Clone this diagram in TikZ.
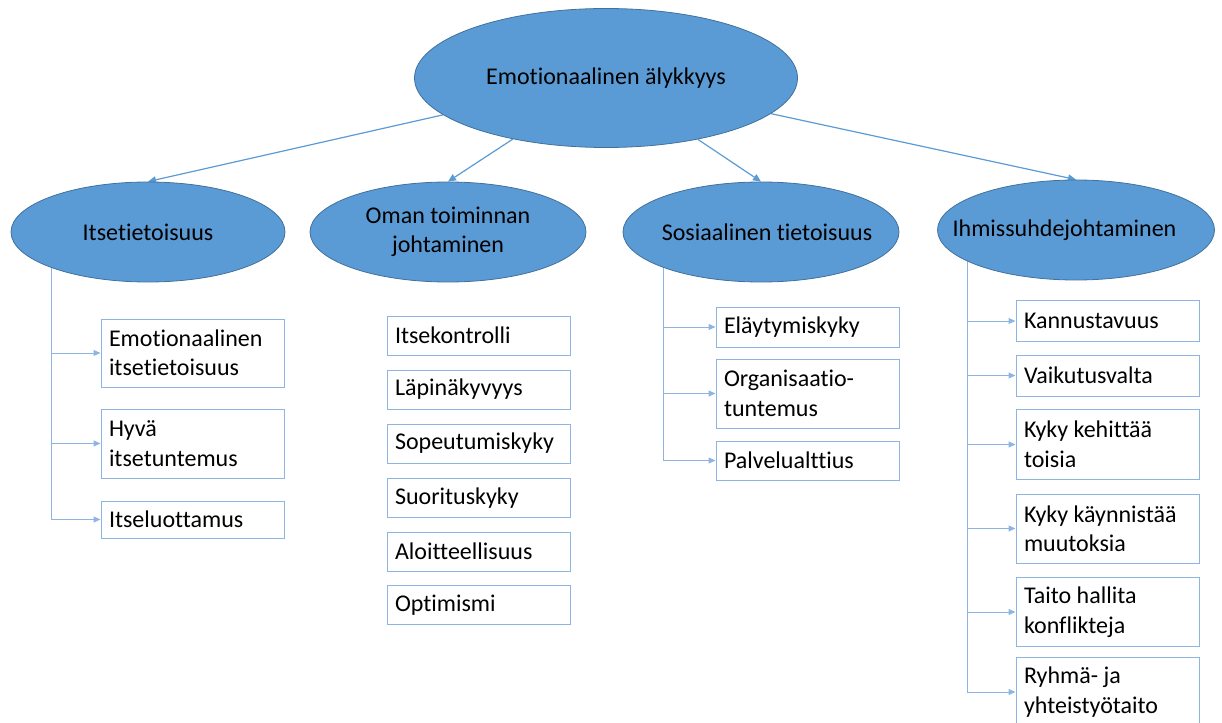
\documentclass[tikz,border=0pt]{standalone}
\usepackage{fontspec}
\setmainfont{Carlito}[Ligatures={NoCommon,NoRequired}]
\usetikzlibrary{shapes.geometric,arrows.meta,backgrounds}
\definecolor{ovalfill}{HTML}{5B9BD5}
\definecolor{ovalline}{HTML}{41719C}
\definecolor{boxline}{HTML}{8EB4E3}
\definecolor{linkblue}{HTML}{5B9BD5}
\definecolor{treeblue}{HTML}{8EB4E3}

\tikzset{
  txt/.style={font=\fontsize{24}{29.5}\selectfont},
  oval/.style={ellipse, fill=ovalfill, draw=ovalline, line width=0.8pt,
    inner sep=-60pt, align=center, txt},
  item/.style={rectangle, draw=boxline, line width=1pt, fill=white,
    minimum width=183pt, text width=167pt, inner xsep=8pt, inner ysep=0pt,
    align=flush left, txt, minimum height=#1},
  item/.default=39pt,
  link/.style={draw=linkblue, line width=1.2pt, -{Triangle[length=8pt,width=7pt]}},
  twig/.style={draw=treeblue, line width=1pt, -{Triangle[length=7pt,width=6pt]}},
  trunk/.style={draw=treeblue, line width=1pt}
}

\begin{document}
\begin{tikzpicture}[x=1pt,y=-1pt]

\useasboundingbox (0,0) rectangle (1222,722);
\clip (0,0) rectangle (1222,722);

% root and the four areas
\node[oval, minimum width=383pt, minimum height=139pt] (root) at (606,78) {Emotionaalinen älykkyys};
\node[oval, minimum width=274pt, minimum height=100pt] (it)  at (148,232) {Itsetietoisuus};
\node[oval, minimum width=276pt, minimum height=100pt] (om)  at (448,232) {Oman toiminnan\\johtaminen};
\node[oval, minimum width=276pt, minimum height=100pt] (so)  at (761,232) {\hspace*{12pt}Sosiaalinen tietoisuus};
\node[oval, minimum width=277pt, minimum height=100pt] (ih)  at (1076,230) {\hspace*{-23pt}Ihmissuhdejohtaminen};

% skills under each area
\node[item=68pt] (it1) at (192.5,353)   {Emotionaalinen\\itsetietoisuus};
\node[item=69pt] (it2) at (192.5,443.5) {Hyvä\\itsetuntemus};
\node[item=37pt] (it3) at (192.5,519.5) {Itseluottamus};

\node[item] (om1) at (478.5,335.5) {Itsekontrolli};
\node[item] (om2) at (478.5,389.5) {Läpinäkyvyys};
\node[item] (om3) at (478.5,443.5) {Sopeutumiskyky};
\node[item] (om4) at (478.5,498)   {Suorituskyky};
\node[item] (om5) at (478.5,551.5) {Aloitteellisuus};
\node[item] (om6) at (478.5,605)   {Optimismi};

\node[item=40pt] (so1) at (807.5,327)   {Eläytymiskyky};
\node[item=69pt] (so2) at (807.5,393.5) {Organisaatio-\\tuntemus};
\node[item=39pt] (so3) at (807.5,460.5) {Palvelualttius};

\node[item=41pt] (ih1) at (1107.5,321)   {Kannustavuus};
\node[item=41pt] (ih2) at (1107.5,375.5) {Vaikutusvalta};
\node[item=70pt] (ih3) at (1107.5,444.5) {Kyky kehittää\\toisia};
\node[item=69pt] (ih4) at (1107.5,528.5) {Kyky käynnistää\\muutoksia};
\node[item=69pt] (ih5) at (1107.5,612)   {Taito hallita\\konflikteja};
\node[item=69pt] (ih6) at (1107.5,692)   {Ryhmä- ja\\yhteistyötaito};

% x positions of the vertical tree lines
\coordinate (itx) at (51,0);
\coordinate (sox) at (663,0);
\coordinate (ihx) at (967,0);

\begin{scope}[on background layer]
  % root to areas
  \draw[link] (root) -- (it.north);
  \draw[link] (root) -- (om.north);
  \draw[link] (root) -- (so.north);
  \draw[link] (root) -- (ih.north);

  % vertical tree lines, starting under the ovals
  \draw[trunk] (itx |- it.center) -- (itx |- it3.west);
  \draw[trunk] (sox |- so.center) -- (sox |- so3.west);
  \draw[trunk] (ihx |- ih.center) -- (ihx |- ih6.west);
\end{scope}

% branches to the skill boxes
\foreach \b in {it1,it2,it3} \draw[twig] (itx |- \b.west) -- (\b.west);
\foreach \b in {so1,so2,so3} \draw[twig] (sox |- \b.west) -- (\b.west);
\foreach \b in {ih1,ih2,ih3,ih4,ih5,ih6} \draw[twig] (ihx |- \b.west) -- (\b.west);

\end{tikzpicture}
\end{document}
